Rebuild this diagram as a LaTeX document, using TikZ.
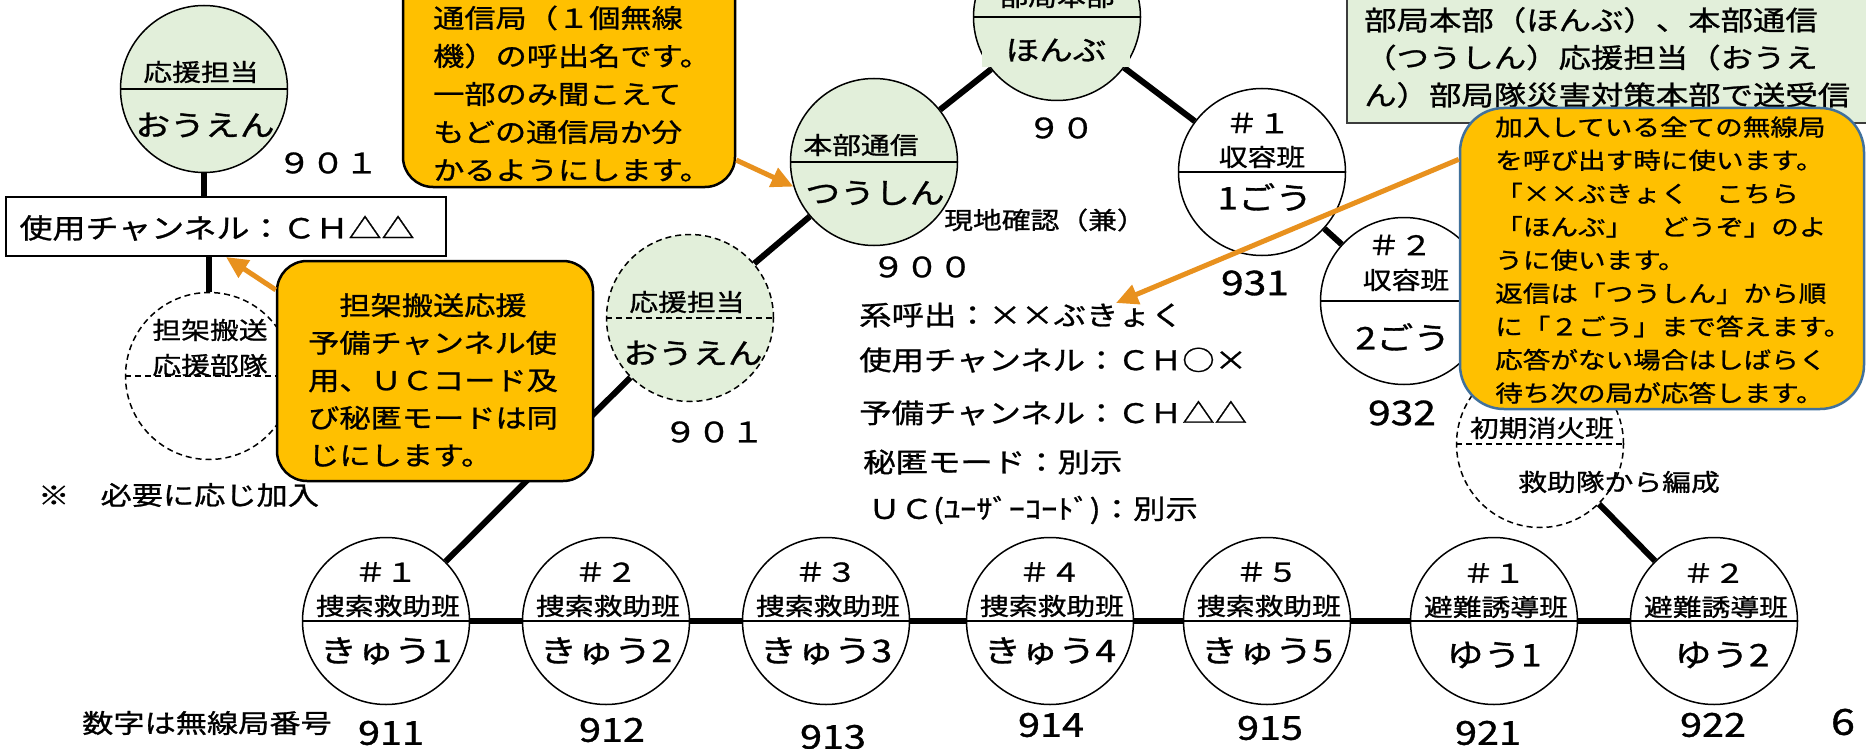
\documentclass[tikz,border=0pt]{standalone}
\usepackage{fontspec}
\setmainfont{Noto Sans CJK JP}[FakeStretch=1.2,FakeBold=1.0]
\usetikzlibrary{arrows.meta}
\definecolor{cgreen}{RGB}{226,239,218}
\definecolor{corange}{RGB}{255,192,0}
\definecolor{carrow}{RGB}{232,145,30}
\definecolor{cblue}{RGB}{65,113,156}
\definecolor{cgray}{RGB}{60,60,60}
\newcommand{\myfz}[1]{\fontsize{#1pt}{#1pt}\selectfont}
\newcommand{\myfzb}[2]{\fontsize{#1pt}{#2pt}\selectfont}
\tikzset{
  stn/.style={circle, draw, line width=1.5pt, minimum size=167pt, inner sep=0pt},
  stng/.style={stn, fill=cgreen},
  stnw/.style={stn, fill=white},
  opt/.style={dash pattern=on 6pt off 4pt},
  divline/.style={line width=1.2pt},
  link/.style={line width=6pt, line cap=butt},
  txt/.style={inner sep=0pt, text=black},
  fs/.style={font=\myfz{#1}},
  callout/.style={draw=black, line width=2.5pt, fill=corange, rounded corners=30pt, inner sep=0pt},
  note/.style={line width=5pt, draw=carrow, -{Triangle[length=22pt,width=20pt]}},
}
\begin{document}
\begin{tikzpicture}[x=1pt,y=-1pt]
\useasboundingbox (0,0) rectangle (1866,749);
\fill[white] (0,0) rectangle (1866,749);

% ---------- station circles ----------
\node[stng] (ouen1) at (204,89) {};
\node[stng] (honbu) at (1057,17) {};
\node[stng] (tsushin) at (874,162) {};
\node[stng, opt] (ouen2) at (690,318) {};
\node[stnw] (shu1) at (1262,172) {};
\node[stnw] (shu2) at (1404,301) {};
\node[stnw, opt] (tanka) at (209,376) {};
\node[stnw, opt] (shoki) at (1540,444) {};
\node[stnw] (kyu1) at (386,621) {};
\node[stnw] (kyu2) at (606,621) {};
\node[stnw] (kyu3) at (826,621) {};
\node[stnw] (kyu4) at (1050,621) {};
\node[stnw] (kyu5) at (1267,621) {};
\node[stnw] (yu1) at (1494,621) {};
\node[stnw] (yu2) at (1714,621) {};

% dividers
\foreach \c in {ouen1,honbu,tsushin,shu1,shu2,kyu1,kyu2,kyu3,kyu4,kyu5,yu1,yu2}
  \draw[divline] (\c.west) -- (\c.east);
\foreach \c in {ouen2,tanka,shoki}
  \draw[divline, opt] (\c.west) -- (\c.east);

% ---------- connectors ----------
\node[draw=black, line width=2pt, fill=white, minimum width=440pt, minimum height=59pt, inner sep=0pt] (chbox) at (226,226.5) {};
\node[txt, fs=27.5] (chtext) at (217,228) {使用チャンネル：ＣＨ△△};
\draw[link] (ouen1.south) -- (ouen1.south |- chbox.north);
\draw[link] (tanka.north |- chbox.south) -- (tanka.north);
\draw[link] (honbu) -- (tsushin);
\draw[link] (honbu) -- (shu1);
\draw[link] (shu1) -- (shu2);
\draw[link] (tsushin) -- (ouen2);
\draw[link] (ouen2) -- (kyu1);
\draw[link] (kyu1) -- (kyu2);
\draw[link] (kyu2) -- (kyu3);
\draw[link] (kyu3) -- (kyu4);
\draw[link] (kyu4) -- (kyu5);
\draw[link] (kyu5) -- (yu1);
\draw[link] (yu1) -- (yu2);
\draw[link] (shoki) -- (yu2);

% ---------- circle labels ----------
\node[txt, fs=24] (o1a) at (201,72) {応援担当};
\node[txt, fs=29] (o1b) at (205,125) {おうえん};
\node[txt, fs=24] (hba) at (1057,-3) {部局本部};
\node[txt, fs=28, fill=cgreen, minimum width=148pt, minimum height=34pt] (hbb) at (1056,50) {ほんぶ};
\node[txt, fs=24] (tsa) at (861,145) {本部通信};
\node[txt, fs=29] (tsb) at (875,193) {つうしん};
\node[txt, fs=24] (o2a) at (687,302) {応援担当};
\node[txt, fs=29] (o2b) at (693,353) {おうえん};
\node[txt, fs=27] (s1a) at (1258,123) {＃１};
\node[txt, fs=24] (s1b) at (1262,157) {収容班};
\node[txt, fs=31] (s1c) at (1265,197) {1ごう};
\node[txt, fs=27] (s2a) at (1400,245) {＃２};
\node[txt, fs=24] (s2b) at (1406,280) {収容班};
\node[txt, fs=31] (s2c) at (1403,337) {2ごう};
\node[txt, fs=24] (tka) at (210,330) {担架搬送};
\node[txt, fs=24] (tkb) at (210,365) {応援部隊};
\node[txt, fs=24] (ska) at (1542,428) {初期消火班};
\node[txt, fs=24, anchor=west] (skb) at (1518,482) {救助隊から編成};

\node[txt, fs=26] (k1a) at (386,572) {＃１};
\node[txt, fs=24] (k1b) at (388,606) {捜索救助班};
\node[txt, fs=31] (k1c) at (386,651) {きゅう1};
\node[txt, fs=26] (k2a) at (606,572) {＃２};
\node[txt, fs=24] (k2b) at (608,606) {捜索救助班};
\node[txt, fs=31] (k2c) at (606,651) {きゅう2};
\node[txt, fs=26] (k3a) at (826,572) {＃３};
\node[txt, fs=24] (k3b) at (828,606) {捜索救助班};
\node[txt, fs=31] (k3c) at (826,651) {きゅう3};
\node[txt, fs=26] (k4a) at (1050,572) {＃４};
\node[txt, fs=24] (k4b) at (1052,606) {捜索救助班};
\node[txt, fs=31] (k4c) at (1050,651) {きゅう4};
\node[txt, fs=26] (k5a) at (1267,572) {＃５};
\node[txt, fs=24] (k5b) at (1269,606) {捜索救助班};
\node[txt, fs=31] (k5c) at (1267,651) {きゅう5};
\node[txt, fs=26] (y1a) at (1494,573) {＃１};
\node[txt, fs=24] (y1b) at (1496,607) {避難誘導班};
\node[txt, fs=31] (y1c) at (1494,655) {ゆう1};
\node[txt, fs=26] (y2a) at (1714,573) {＃２};
\node[txt, fs=24] (y2b) at (1716,607) {避難誘導班};
\node[txt, fs=31] (y2c) at (1722,655) {ゆう2};

% ---------- station numbers ----------
\node[txt, fs=28] (n901a) at (328,163) {９０１};
\node[txt, fs=28] (n90) at (1061,128) {９０};
\node[txt, fs=28] (n900) at (922,267) {９００};
\node[txt, fs=28] (n901b) at (714,432) {９０１};
\node[txt, fs=34] (n931) at (1255,283) {931};
\node[txt, fs=34] (n932) at (1402,413) {932};
\node[txt, fs=33] (n911) at (391,733) {911};
\node[txt, fs=33] (n912) at (612,730) {912};
\node[txt, fs=33] (n913) at (833,737) {913};
\node[txt, fs=33] (n914) at (1051,725) {914};
\node[txt, fs=33] (n915) at (1270,728) {915};
\node[txt, fs=33] (n921) at (1488,733) {921};
\node[txt, fs=33] (n922) at (1713,725) {922};
\node[txt, fs=36] (page) at (1843,722) {6};

% ---------- free texts ----------
\node[txt, fs=24, anchor=west] (genchi) at (944,220) {現地確認（兼）};
\node[txt, fs=27, anchor=west] (kei) at (859,315) {系呼出：××ぶきょく};
\node[txt, fs=27, anchor=west] (shiyo) at (859,360) {使用チャンネル：ＣＨ○×};
\node[txt, fs=27, anchor=west] (yobi) at (859,413) {予備チャンネル：ＣＨ△△};
\node[txt, fs=27, anchor=west] (hitoku) at (863,462) {秘匿モード：別示};
\node[txt, fs=27, anchor=west] (ucc) at (868,510) {ＵＣ(ﾕｰｻﾞｰｺｰﾄﾞ)：別示};
\node[txt, fs=26, anchor=west] (hitsuyo) at (38,495) {※　必要に応じ加入};
\node[txt, fs=26, anchor=west] (suji) at (82,723) {数字は無線局番号};

% ---------- top-right green box ----------
\draw[draw=cgray, line width=2pt, fill=cgreen] (1347,-10) rectangle (1880,123);
\node[txt, anchor=west, align=left, font=\myfzb{27}{37.5}] (gbox) at (1364,57.5)
  {部局本部（ほんぶ）、本部通信\\（つうしん）応援担当（おうえ\\ん）部局隊災害対策本部で送受信};

% ---------- callouts ----------
\node[callout, minimum width=332pt, minimum height=217pt] (call1) at (569,78.5) {};
\node[txt, anchor=west, align=left, font=\myfzb{26}{38}] (call1t) at (433,93.5)
  {通信局（１個無線\\機）の呼出名です。\\一部のみ聞こえて\\もどの通信局か分\\かるようにします。};
\node[callout, minimum width=316pt, minimum height=220pt] (call2) at (435,371) {};
\node[txt, anchor=west, align=left, font=\myfzb{26}{37.5}] (call2t) at (308,380)
  {　担架搬送応援\\予備チャンネル使\\用、ＵＣコード及\\び秘匿モードは同\\じにします。};
\node[callout, draw=cblue, rounded corners=44pt, minimum width=404pt, minimum height=301pt] (call3) at (1662,258.5) {};
\node[txt, anchor=west, align=left, font=\myfzb{23}{33.25}] (call3t) at (1495,260)
  {加入している全ての無線局\\を呼び出す時に使います。\\「××ぶきょく　こちら\\「ほんぶ」　どうぞ」のよ\\うに使います。\\返信は「つうしん」から順\\に「２ごう」まで答えます。\\応答がない場合はしばらく\\待ち次の局が応答します。};

% ---------- callout arrows ----------
\coordinate (a3tip) at (1116,303);
\draw[note] (call1.-26) -- (tsushin.197);
\draw[note] (call2.153) -- (chbox.south);
\draw[note] (call3.154) -- (a3tip);
\end{tikzpicture}
\end{document}
